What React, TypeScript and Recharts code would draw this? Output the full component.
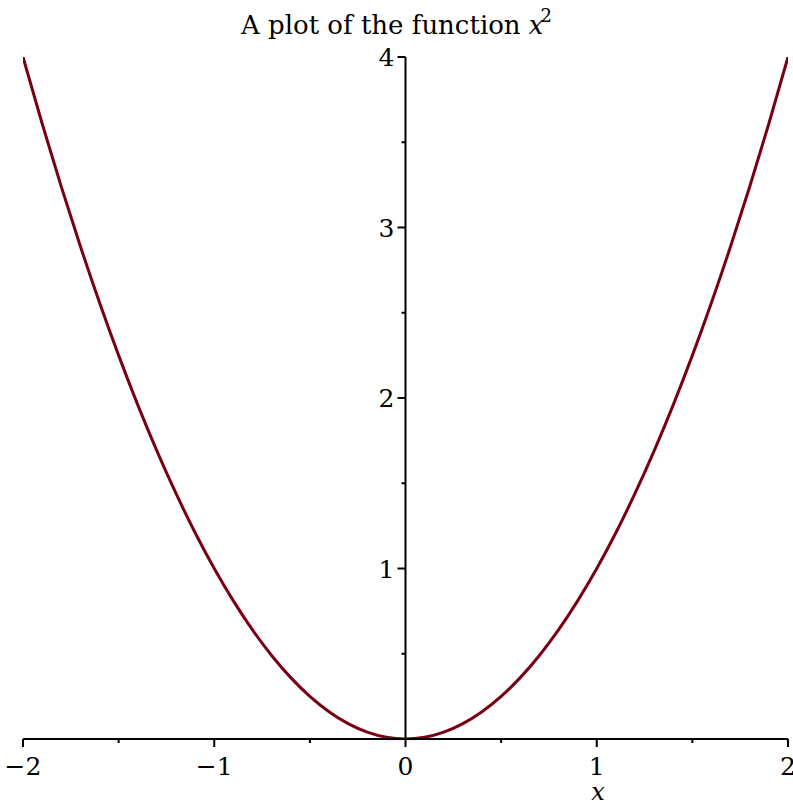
import { LineChart, Line, XAxis, YAxis, ReferenceLine } from 'recharts'

// sample points
const xValues = [
  -2, -1.9, -1.8, -1.7, -1.6, -1.5, -1.4, -1.3, -1.2, -1.1, -1, -0.9, -0.8, -0.7, -0.6, -0.5, -0.4,
  -0.3, -0.2, -0.1, 0, 0.1, 0.2, 0.3, 0.4, 0.5, 0.6, 0.7, 0.8, 0.9, 1, 1.1, 1.2, 1.3, 1.4, 1.5, 1.6,
  1.7, 1.8, 1.9, 2,
]
const yValues = [
  4, 3.61, 3.24, 2.89, 2.56, 2.25, 1.96, 1.69, 1.44, 1.21, 1, 0.81, 0.64, 0.49, 0.36, 0.25, 0.16,
  0.09, 0.04, 0.01, 0, 0.01, 0.04, 0.09, 0.16, 0.25, 0.36, 0.49, 0.64, 0.81, 1, 1.21, 1.44, 1.69,
  1.96, 2.25, 2.56, 2.89, 3.24, 3.61, 4,
]
const xTicks = [-2, -1.5, -1, -0.5, 0, 0.5, 1, 1.5, 2]
const yTicks = [0.5, 1, 1.5, 2, 2.5, 3, 3.5, 4]

const data = xValues.map((x, i) => ({ x, y: yValues[i] }))

const W = 793
const H = 801
const LEFT = 23
const RIGHT = 5
const Y_AXIS_W = 20
const PLOT_W = W - LEFT - RIGHT
const FONT = '"DejaVu Serif", serif'
const CURVE = '#780012'

const fmt = (v: number) => (v < 0 ? '\u2212' + Math.abs(v) : String(v))

function XTick({ x, y, payload }: any) {
  const major = Number.isInteger(payload.value)
  return (
    <g>
      <line x1={x} x2={x} y1={y} y2={y + (major ? 8 : 4)} stroke="#000" strokeWidth={2} />
      {major && (
        <text x={x} y={y + 36} textAnchor="middle" fontSize={25} fontFamily={FONT} fill="#000">
          {fmt(payload.value)}
        </text>
      )}
    </g>
  )
}

function YTick({ x, y, payload }: any) {
  // y axis sits at x = 0, in the middle of the plot
  const ax = x + PLOT_W / 2
  const major = Number.isInteger(payload.value)
  return (
    <g>
      <line x1={ax - (major ? 8 : 4)} x2={ax} y1={y} y2={y} stroke="#000" strokeWidth={2} />
      {major && (
        <text x={ax - 11} y={y + 9} textAnchor="end" fontSize={25} fontFamily={FONT} fill="#000">
          {payload.value}
        </text>
      )}
    </g>
  )
}

export default function App() {
  return (
    <div style={{ position: 'absolute', left: 0, top: 0, width: W, height: H, background: '#fff' }}>
      <div
        style={{
          position: 'absolute',
          top: 12,
          left: 0,
          width: W,
          textAlign: 'center',
          fontFamily: FONT,
          fontSize: 26,
          lineHeight: '26px',
          zIndex: 2,
        }}
      >
        A plot of the function <i>x</i>
        <span style={{ fontSize: 18, position: 'relative', top: -12, marginLeft: -3 }}>2</span>
      </div>
      <div
        style={{
          position: 'absolute',
          top: 780,
          left: 598,
          transform: 'translateX(-50%)',
          fontFamily: FONT,
          fontStyle: 'italic',
          fontSize: 24,
          lineHeight: '24px',
          zIndex: 2,
        }}
      >
        x
      </div>
      <LineChart
        width={W}
        height={H}
        data={data}
        margin={{ top: 57, right: RIGHT, left: LEFT - Y_AXIS_W, bottom: 0 }}
      >
        <XAxis
          dataKey="x"
          type="number"
          domain={[-2, 2]}
          ticks={xTicks}
          height={62}
          tickSize={0}
          tickMargin={0}
          tickLine={false}
          axisLine={{ stroke: '#000', strokeWidth: 2 }}
          tick={<XTick />}
          interval={0}
          allowDataOverflow
        />
        <YAxis
          type="number"
          domain={[0, 4]}
          ticks={yTicks}
          width={Y_AXIS_W}
          tickSize={0}
          tickMargin={0}
          tickLine={false}
          axisLine={false}
          tick={<YTick />}
          interval={0}
          allowDataOverflow
        />
        <ReferenceLine x={0} stroke="#000" strokeWidth={2} />
        <Line
          type="monotone"
          dataKey="y"
          stroke={CURVE}
          strokeWidth={3}
          dot={false}
          activeDot={false}
          isAnimationActive={false}
        />
      </LineChart>
    </div>
  )
}
